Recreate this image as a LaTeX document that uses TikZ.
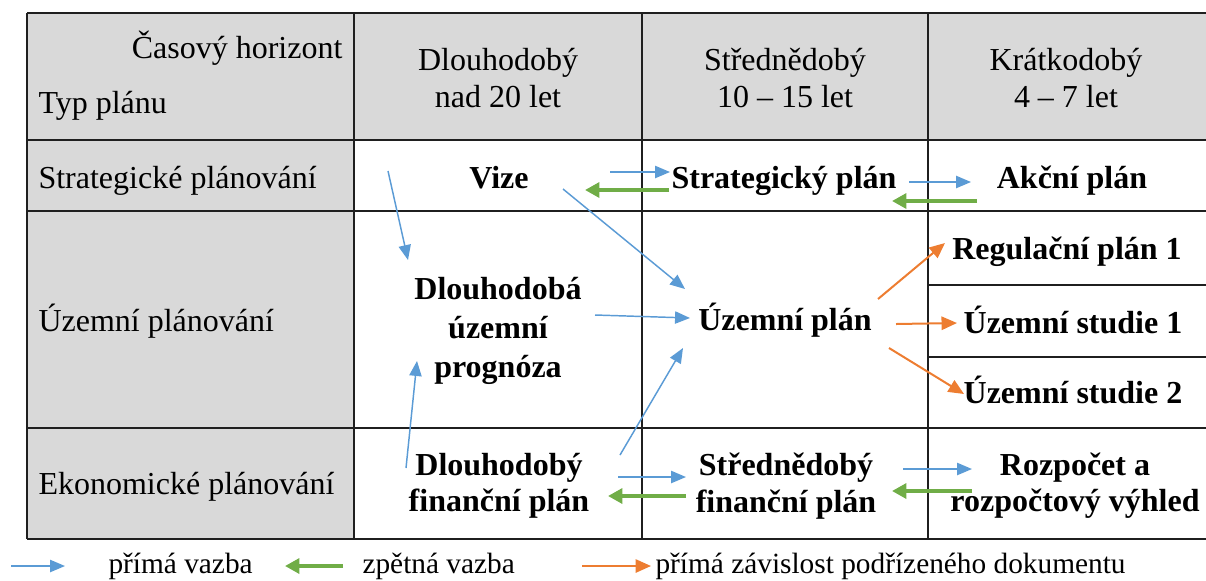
\documentclass[tikz,border=0pt]{standalone}
\usepackage{fontspec}
\setmainfont{Liberation Serif}
\usepackage{tikz}
\usetikzlibrary{arrows.meta}
\definecolor{cellgray}{HTML}{D9D9D9}
\definecolor{linkblue}{HTML}{5B9BD5}
\definecolor{linkgreen}{HTML}{70AD47}
\definecolor{linkorange}{HTML}{ED7D31}
\begin{document}
\begin{tikzpicture}[
  x=0.375pt, y=-0.375pt,
  grid/.style={draw=black!88, line width=0.75pt},
  head/.style={font=\fontsize{12}{13.6}\selectfont, align=center, inner sep=0pt},
  rowlabel/.style={font=\fontsize{12}{13.8}\selectfont, anchor=base west, inner sep=0pt},
  plan/.style={font=\fontsize{12}{13.6}\selectfont\bfseries, align=center, inner sep=0pt},
  legend/.style={font=\fontsize{11}{13}\selectfont, anchor=base west, inner sep=0pt},
  direct/.style={-{Triangle[length=5.6pt,width=4.6pt]}, linkblue, line width=0.55pt},
  feedback/.style={-{Triangle[length=5.4pt,width=5.6pt]}, linkgreen, line width=1.3pt},
  subord/.style={-{Triangle[length=5.8pt,width=5pt]}, linkorange, line width=0.75pt}
]
\useasboundingbox (0,0) rectangle (1206,580);
\fill[cellgray] (27,13) rectangle (1206,140);
\fill[cellgray] (27,140) rectangle (354,539);
\foreach \y in {13,140,211,428,539} \draw[grid] (27,\y) -- (1206,\y);
\foreach \x in {27,354,642,928} \draw[grid] (\x,13) -- (\x,539);
\foreach \y in {285,357} \draw[grid] (928,\y) -- (1206,\y);

\node[head, anchor=base east] (horizon) at (343,58) {Časový horizont};
\node[head, anchor=base west] (plantype) at (38,113) {Typ plánu};
\node[head] (longterm) at (498,78) {Dlouhodobý\\nad 20 let};
\node[head] (midterm) at (785,78) {Střednědobý\\10 – 15 let};
\node[head] (shortterm) at (1066,78) {Krátkodobý\\4 – 7 let};

\node[rowlabel] (strategic) at (38,188) {Strategické plánování};
\node[rowlabel] (spatial) at (38,331) {Územní plánování};
\node[rowlabel] (economic) at (38,494) {Ekonomické plánování};

\node[plan, anchor=base] (vize) at (499,188) {Vize};
\node[plan, anchor=base] (strat) at (784,188) {Strategický plán};
\node[plan, anchor=base] (akcni) at (1072,188) {Akční plán};
\node[plan, font=\fontsize{12}{14.6}\selectfont\bfseries] (prog) at (498,331) {Dlouhodobá\\územní\\prognóza};
\node[plan, anchor=base] (up) at (785,330) {Územní plán};
\node[plan, anchor=base] (reg1) at (1067,259) {Regulační plán 1};
\node[plan, anchor=base] (us1) at (1073,333) {Územní studie 1};
\node[plan, anchor=base] (us2) at (1073,403) {Územní studie 2};
\node[plan] (dfp) at (499,486) {Dlouhodobý\\finanční plán};
\node[plan] (sfp) at (786,486) {Střednědobý\\finanční plán};
\node[plan] (rozp) at (1075,486) {Rozpočet a\\rozpočtový výhled};

\draw[direct] ([shift={(-111,-17)}]vize.base) -- ([shift={(-90,-71)}]prog.center);
\draw[direct] ([shift={(64,1)}]vize.base) -- ([shift={(-100,-41)}]up.base);
\draw[direct] ([shift={(111,-16)}]vize.base) -- ([shift={(-114,-16)}]strat.base);
\draw[feedback] ([shift={(-115,2)}]strat.base) -- ([shift={(86,2)}]vize.base);
\draw[direct] ([shift={(125,-6)}]strat.base) -- ([shift={(-101,-6)}]akcni.base);
\draw[feedback] ([shift={(-95,13)}]akcni.base) -- ([shift={(108,13)}]strat.base);
\draw[direct] ([shift={(97,-16)}]prog.center) -- ([shift={(-95,-12)}]up.base);
\draw[direct] ([shift={(121,-31)}]dfp.center) -- ([shift={(-102,18)}]up.base);
\draw[direct] ([shift={(-93,-18)}]dfp.center) -- ([shift={(-81,30)}]prog.center);
\draw[direct] ([shift={(119,-9)}]dfp.center) -- ([shift={(-100,-9)}]sfp.center);
\draw[feedback] ([shift={(-100,10)}]sfp.center) -- ([shift={(109,10)}]dfp.center);
\draw[direct] ([shift={(117,-17)}]sfp.center) -- ([shift={(-103,-17)}]rozp.center);
\draw[feedback] ([shift={(-103,5)}]rozp.center) -- ([shift={(106,5)}]sfp.center);
\draw[subord] ([shift={(93,-31)}]up.base) -- ([shift={(-122,-16)}]reg1.base);
\draw[subord] ([shift={(111,-6)}]up.base) -- ([shift={(-116,-10)}]us1.base);
\draw[subord] ([shift={(104,18)}]up.base) -- ([shift={(-109,-9)}]us2.base);

\node[legend] (keydirect) at (108,573) {přímá vazba};
\node[legend] (keyback) at (362,573) {zpětná vazba};
\node[legend] (keysub) at (655,573) {přímá závislost podřízeného dokumentu};
\draw[direct] ([shift={(-97,-7)}]keydirect.base west) -- ([shift={(-43,-7)}]keydirect.base west);
\draw[feedback] ([shift={(-19,-7)}]keyback.base west) -- ([shift={(-77,-7)}]keyback.base west);
\draw[subord] ([shift={(-73,-7)}]keysub.base west) -- ([shift={(-4,-7)}]keysub.base west);
\end{tikzpicture}
\end{document}
